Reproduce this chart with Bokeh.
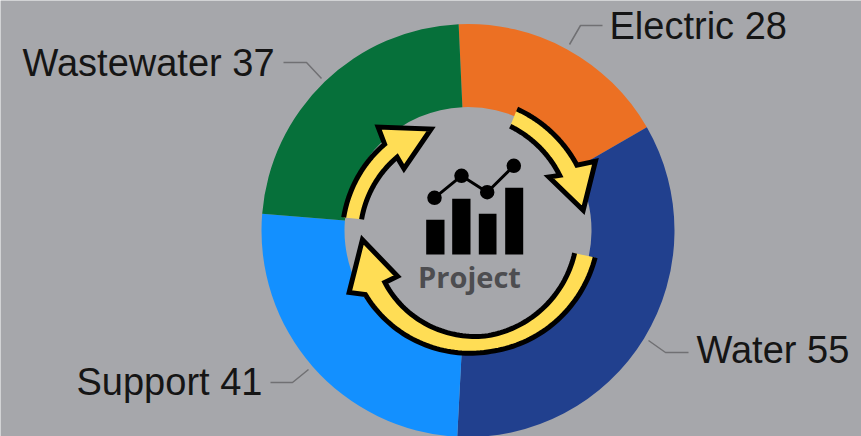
import numpy as np
from bokeh.plotting import figure
from bokeh.embed import file_html
from bokeh.resources import INLINE
from bokeh.core.properties import value

categories = ["Electric", "Water", "Support", "Wastewater"]
values = [28, 55, 41, 37]
colors = ["#EC7023", "#21408E", "#1390FF", "#06703A"]
label_x = [609, 696, 76, 22]
label_middle = [25, 349, 381, 62]
leaders = [
    [(602, 25), (580, 25), (569, 44)],
    [(688, 352), (665, 352), (648, 340)],
    [(270, 382), (292, 382), (308, 369)],
    [(283, 62), (306, 62), (321, 78)],
]
BG = "#A6A7AB"
W, H = 861, 436
CX, CY, R_OUT, R_IN = 467.5, 230, 206.5, 123.5
START = -2.6

def Y(py):
    return 436 - np.asarray(py, dtype=float)

p = figure(width=W, height=H, x_range=(0, 861), y_range=(0, 436),
           x_axis_type=None, y_axis_type=None, toolbar_location=None,
           output_backend="svg", min_border=0,
           background_fill_color=BG, border_fill_color=BG, outline_line_color=None)
p.grid.visible = False

# donut
ang = START + np.concatenate([[0], np.cumsum(values)]) / sum(values) * 360
p.annular_wedge(x=[CX] * 4, y=[float(Y(CY))] * 4, inner_radius=R_IN, outer_radius=R_OUT,
                start_angle=list(np.pi / 2 - np.radians(ang[:-1])),
                end_angle=list(np.pi / 2 - np.radians(ang[1:])),
                direction="clock", fill_color=colors, line_color=None)

# labels and leaders
for c, v, x, b, l in zip(categories, values, label_x, label_middle, leaders):
    p.text(x=[x], y=[float(Y(b))], text=[f"{c} {v}"], text_font=value("Liberation Sans"),
           text_font_size="38px", text_color="#151515", text_align="left", text_baseline="middle")
    p.line([q[0] for q in l], list(Y([q[1] for q in l])), line_color="#707073", line_width=1.5)

def pol(r, a):
    a = np.radians(a)
    return CX + r * np.sin(a), CY - r * np.cos(a)

def arrow(a0, a_end, r_in, r_out, corner_o, tip, corner_i):
    t = np.linspace(a0, a_end, 80)
    frac = np.linspace(0, 1, 80)
    xp = np.linspace(0, 1, len(r_in))
    ro = np.interp(frac, xp, r_out)
    ri = np.interp(frac, xp, r_in)
    ox, oy = pol(ro, t)
    ix, iy = pol(ri, t)
    hx, hy = pol(np.array([corner_o[0], tip[0], corner_i[0]]),
                 np.array([corner_o[1], tip[1], corner_i[1]]))
    xs = np.concatenate([ox, hx, ix[::-1]])
    ys = np.concatenate([oy, hy, iy[::-1]])
    p.patch(xs, Y(ys), fill_color="#FFDD55", line_color=None)
    p.line(xs, Y(ys), line_color="black", line_width=5, line_join="miter")

arrow(22, 59, [112.5, 107], [131, 127], (145, 61.5), (117, 80), (97, 56.5))
arrow(102, 238, [109, 107, 98], [130, 123, 121], (134, 242.5), (106, 265), (84, 237))
arrow(276, 316, [107, 102], [125, 120], (137, 319), (108, 340), (89, 314))

# centre icon
for x0, x1, top in [(425.7, 444, 219.3), (451.7, 470, 198.3), (478.3, 496, 213.3), (504.7, 522.7, 187.3)]:
    p.quad(left=[x0], right=[x1], top=[float(Y(top))], bottom=[float(Y(254))], fill_color="black", line_color=None)
lx = [434, 461, 486.7, 513.3]
ly = [197.3, 175.3, 191.7, 165.3]
p.line(lx, Y(ly), line_color="black", line_width=3)
p.scatter(lx, Y(ly), size=14.5, fill_color="black", line_color=None)
p.text(x=[469], y=[float(Y(276))], text=["Project"], text_font=value("Open Sans"), text_font_style="bold",
       text_font_size="29px", text_color="#4D4D50", text_align="center", text_baseline="middle")

open("out.html", "w").write(file_html(p, INLINE))
